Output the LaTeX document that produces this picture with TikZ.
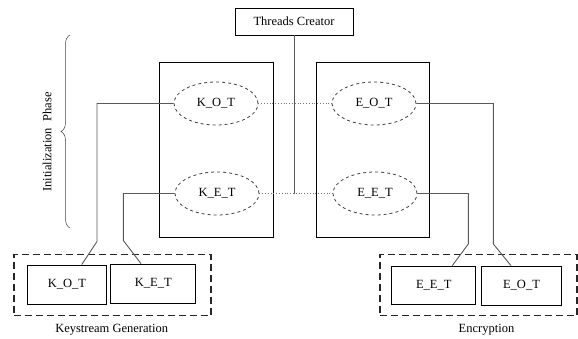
\documentclass[tikz,border=0pt]{standalone}
\usepackage{fontspec}
\setmainfont{Liberation Serif}
\usetikzlibrary{positioning}
\usetikzlibrary{calc}
\usetikzlibrary{shapes.geometric}
\usetikzlibrary{decorations.pathreplacing}
\tikzset{
  box/.style={draw, line width=0.8pt, inner sep=0pt, font=\fontsize{12.5}{14}\selectfont},
  thread/.style={draw=black!75, dashed, line width=0.8pt, ellipse, inner sep=0pt,
    minimum width=84, minimum height=43, font=\fontsize{12.5}{14}\selectfont},
  group/.style={draw=black!85, dash pattern=on 7pt off 4pt, line width=1.7pt, inner sep=0pt},
  link/.style={draw=black!65, line width=0.9pt},
  sync/.style={draw=black!55, dotted, line width=0.8pt},
  caption/.style={font=\fontsize{12.5}{14}\selectfont}
}

\begin{document}
\begin{tikzpicture}[x=1pt, y=-1pt]
\useasboundingbox (0,0) rectangle (578,338);

% creator and the two thread containers
\node[box, minimum width=118, minimum height=27] (TC) at (294,21.5) {Threads Creator};
\node[box, minimum width=114, minimum height=175] (KBOX) at (216,149.5) {};
\node[box, minimum width=113, minimum height=175] (EBOX) at (372.5,149.5) {};

% threads
\node[thread] (KOT) at (216,103.5) {K\_O\_T};
\node[thread] (EOT) at (374,103.5) {E\_O\_T};
\node[thread] (KET) at (217,193.5) {K\_E\_T};
\node[thread] (EET) at (375,193.5) {E\_E\_T};

%%% Keystream Generation
\node[group, minimum width=197, minimum height=61] (KGEN) at (112.7,285) {};
\node[box, minimum width=79, minimum height=39] (KOTB) at (67,284.5) {K\_O\_T};
\node[box, minimum width=85, minimum height=39] (KETB) at (153.3,283.5) {K\_E\_T};
\node[caption] (KGENL) at (111.7,330) {Keystream Generation};

%%% Encryption
\node[group, minimum width=197, minimum height=61] (ENC) at (478.3,285) {};
\node[box, minimum width=84, minimum height=38] (EETB) at (433.8,285) {E\_E\_T};
\node[box, minimum width=80, minimum height=39] (EOTB) at (521.5,285.5) {E\_O\_T};
\node[caption] (ENCL) at (486.5,330) {Encryption};

% initialization phase brace
\coordinate (BT) at (70,35);
\coordinate (BB) at (70,228);
\draw[black!75, line width=0.5pt, decorate, decoration={brace, amplitude=9pt, mirror}] (BT) -- (BB);
\node[caption, rotate=90] (INIT) at (47,142) {Initialization\ \ Phase};

% creator line and sync lines
\draw[link] (TC.south) -- (TC.south |- KET.east);
\draw[sync] (KOT.east) -- (EOT.west);
\draw[sync] (KET.east) -- (EET.west);

% connections to the workers
\coordinate (KOTbend) at (97,241.5);
\coordinate (KETbend) at (123.3,240.5);
\coordinate (EOTbend) at (493.3,244);
\coordinate (EETbend) at (468.3,244);
\draw[link] (KOT.west) -| (KOTbend) -- ($(KOTB.north)+(14.7,0)$);
\draw[link] (KET.west) -| (KETbend) -- ($(KETB.north)+(-12.3,0)$);
\draw[link] (EOT.east) -| (EOTbend) -- ($(EOTB.north)+(-10.5,0)$);
\draw[link] (EET.east) -| (EETbend) -- ($(EETB.north)+(18.5,0)$);

\end{tikzpicture}
\end{document}
